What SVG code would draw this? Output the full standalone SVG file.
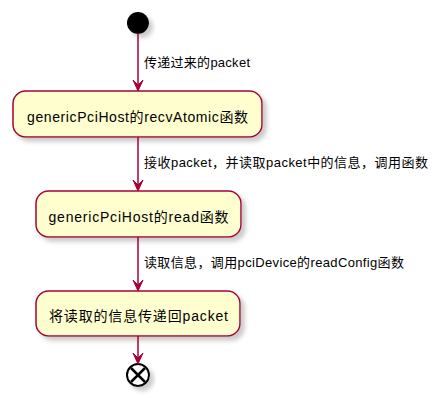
<svg xmlns="http://www.w3.org/2000/svg" width="443" height="406" viewBox="0 0 443 406">
<defs>
<filter id="sh" x="-20%" y="-20%" width="150%" height="160%">
<feGaussianBlur in="SourceAlpha" stdDeviation="2"/>
<feOffset dx="4" dy="4" result="b"/>
<feColorMatrix in="b" type="matrix" values="0 0 0 0 0.4  0 0 0 0 0.4  0 0 0 0 0.4  0 0 0 0.6 0" result="s"/>
<feMerge><feMergeNode in="s"/><feMergeNode in="SourceGraphic"/></feMerge>
</filter>
</defs>
<style>
.box{fill:#FEFECE;stroke:#A80036;stroke-width:1.5;filter:url(#sh)}
.t{font-family:"Liberation Sans","Noto Sans CJK SC",sans-serif;font-size:14px;fill:#000;text-anchor:middle}
.lbl{font-family:"Liberation Sans","Noto Sans CJK SC",sans-serif;font-size:13px;fill:#000}
.ln{stroke:#A80036;stroke-width:1.5;fill:none}
.ah{fill:#A80036;stroke:#A80036;stroke-width:1}
</style>
<rect width="443" height="406" fill="#fff"/>
<g id="start">
<circle cx="138" cy="23" r="11" fill="#000" filter="url(#sh)"/>
</g>
<g id="n1">
<rect class="box" x="13" y="91" width="249" height="46" rx="12.5"/>
<text class="t" x="137.5" y="121.5" textLength="221" lengthAdjust="spacing">genericPciHost的recvAtomic函数</text>
</g>
<g id="n2">
<rect class="box" x="36" y="191" width="205" height="46" rx="12.5"/>
<text class="t" x="138.5" y="221.5" textLength="180" lengthAdjust="spacing">genericPciHost的read函数</text>
</g>
<g id="n3">
<rect class="box" x="36" y="291" width="204" height="45" rx="12.5"/>
<text class="t" x="138.5" y="321" textLength="179" lengthAdjust="spacing">将读取的信息传递回packet</text>
</g>
<g id="end">
<circle cx="138" cy="375" r="11" fill="#fff" stroke="#000" stroke-width="2" filter="url(#sh)"/>
<line x1="131" y1="368" x2="145" y2="382" stroke="#000" stroke-width="2.5"/>
<line x1="145" y1="368" x2="131" y2="382" stroke="#000" stroke-width="2.5"/>
</g>
<g id="connectors">
<line class="ln" x1="138" y1="34" x2="138" y2="88"/>
<polygon class="ah" points="133,80 138,91 143,80 138,85"/>
<text class="lbl" x="144" y="67" textLength="106" lengthAdjust="spacing">传递过来的packet</text>
<line class="ln" x1="138" y1="137" x2="138" y2="188"/>
<polygon class="ah" points="133,180 138,191 143,180 138,185"/>
<text class="lbl" x="144" y="167" textLength="284" lengthAdjust="spacing">接收packet，并读取packet中的信息，调用函数</text>
<line class="ln" x1="138" y1="237" x2="138" y2="288"/>
<polygon class="ah" points="133,280 138,291 143,280 138,285"/>
<text class="lbl" x="144" y="267" textLength="260" lengthAdjust="spacing">读取信息，调用pciDevice的readConfig函数</text>
<line class="ln" x1="138" y1="336" x2="138" y2="361"/>
<polygon class="ah" points="133,353 138,364 143,353 138,358"/>
</g>
</svg>
